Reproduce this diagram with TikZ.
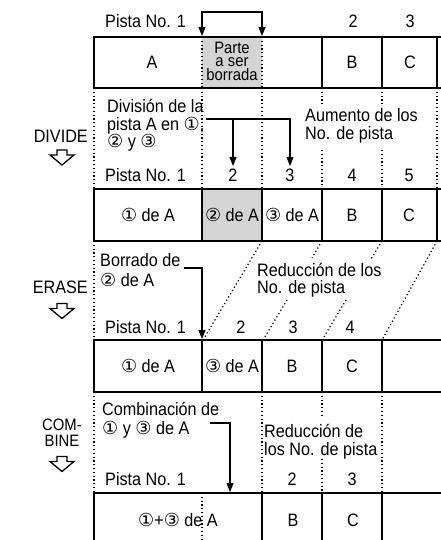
\documentclass[tikz,border=0pt]{standalone}
\usepackage{fontspec}
\setmainfont{Liberation Sans}[FakeStretch=0.9]
\newfontfamily\circfont{DejaVu Sans}
\usetikzlibrary{arrows.meta}
\newcommand{\cnum}[1]{{\circfont\fontsize{18}{18}\selectfont #1}}
\begin{document}
\begin{tikzpicture}[x=1pt,y=-1pt,
  font=\fontsize{18}{18}\selectfont,
  box/.style={line width=1.6pt},
  dots/.style={line width=1.2pt, dash pattern=on 1.2pt off 2.6pt},
  conn/.style={line width=1.1pt, -{Triangle[length=9pt,width=7pt]}},
  bconn/.style={line width=1.1pt, {Triangle[length=9pt,width=7pt]}-{Triangle[length=9pt,width=7pt]}},
  txt/.style={inner sep=0pt, anchor=base west},
  ctr/.style={inner sep=0pt, anchor=base},
  rtx/.style={inner sep=0pt, anchor=base east},
  small/.style={font=\fontsize{16.5}{16.5}\selectfont},
  shade/.style={fill=black!17},
  hollowdown/.pic={\draw[line width=1.3pt, line join=miter]
     (-5,-7.5) -- (5,-7.5) -- (5,-2.5) -- (12,-2.5) -- (0,7.5) -- (-12,-2.5) -- (-5,-2.5) -- cycle;}
]
\clip (0,0) rectangle (441,540);
% ---------- shading
\fill[shade] (202,37) rectangle (262,88);
\fill[shade] (202,189) rectangle (262,241);
% ---------- row 1
\draw[box] (445,37) -- (94,37) -- (94,88) -- (445,88);
\foreach \x in {322,382,437} \draw[box] (\x,37) -- (\x,88);
\foreach \x in {202,262} \draw[dots] (\x,37) -- (\x,88);
% ---------- row 2
\draw[box] (445,189) -- (94,189) -- (94,241) -- (445,241);
\foreach \x in {202,262,322,382,437} \draw[box] (\x,189) -- (\x,241);
% ---------- row 3
\draw[box] (445,340) -- (94,340) -- (94,392) -- (445,392);
\foreach \x in {202,262,322,382} \draw[box] (\x,340) -- (\x,392);
% ---------- row 4
\draw[box] (445,493) -- (94,493) -- (94,545);
\foreach \x in {262,322,382} \draw[box] (\x,493) -- (\x,545);
\draw[dots] (202,493) -- (202,545);
% ---------- dotted guides 1-2
\foreach \x in {94,202,262,437} \draw[dots] (\x,88) -- (\x,189);
\foreach \x in {322,382} {\draw[dots] (\x,88) -- (\x,104); \draw[dots] (\x,150) -- (\x,189);}
% ---------- dotted guides 2-3
\draw[dots] (94,241) -- (94,340);
\draw[dots] (262,241) -- (203,340);
\draw[dots] (322,241) -- (312,258);
\draw[dots] (287,300) -- (263,340);
\draw[dots] (382,241) -- (371,259);
\draw[dots] (346,300) -- (322,340);
\draw[dots] (437,241) -- (382,340);
% ---------- dotted guides 3-4
\foreach \x in {94,262,382} \draw[dots] (\x,392) -- (\x,493);
\draw[dots] (322,392) -- (322,418);
\draw[dots] (322,459) -- (322,493);
% ---------- top
\node[txt] (p0) at (105,28) {Pista No. 1};
\node[ctr] (n02) at (353,28) {2};
\node[ctr] (n03) at (410,28) {3};
\coordinate (br1) at (202,36);
\coordinate (br2) at (262,36);
\coordinate (brtop) at (232,12);
\draw[bconn] (br1) |- (brtop) -| (br2);
\node[ctr] (c1A) at (152,69) {A};
\node[ctr,small] (c1p1) at (232,53.5) {Parte};
\node[ctr,small] (c1p2) at (232,66.5) {a ser};
\node[ctr,small] (c1p3) at (232,80.5) {borrada};
\node[ctr] (c1B) at (352,69) {B};
\node[ctr] (c1C) at (410,69) {C};
% ---------- divide
\node[rtx] (lDiv) at (88,143) {DIVIDE};
\pic at (62,157.5) {hollowdown};
\node[txt] (d1) at (107,113) {División de la};
\node[txt] (d2) at (107,131) {pista A en \cnum{①},};
\node[txt] (d3) at (107,148) {\cnum{②} y \cnum{③}};
\node[txt] (au1) at (305,122) {Aumento de los};
\node[txt] (au2) at (305,140) {No. de pista};
\coordinate (db0) at (233,119);
\coordinate (db1) at (233,166);
\coordinate (dv0) at ([xshift=1.5pt]d2.east |- db0);
\coordinate (dv2) at (290,166);
\draw[conn] (dv0) -| (dv2);
\draw[conn] (db0) -- (db1);
\node[txt] (p2) at (105,181) {Pista No. 1};
\node[ctr] (n22) at (233,181) {2};
\node[ctr] (n23) at (290,181) {3};
\node[ctr] (n24) at (352,181) {4};
\node[ctr] (n25) at (409,181) {5};
\node[ctr] (c21) at (148,221) {\cnum{①} de A};
\node[ctr] (c22) at (232,221) {\cnum{②} de A};
\node[ctr] (c23) at (292,221) {\cnum{③} de A};
\node[ctr] (c2B) at (352,221) {B};
\node[ctr] (c2C) at (409,221) {C};
% ---------- erase
\node[rtx] (lEra) at (88,293) {ERASE};
\pic at (62,311) {hollowdown};
\node[txt] (e1) at (100,266) {Borrado de};
\node[txt] (e2) at (100,286) {\cnum{②} de A};
\coordinate (er0) at (184,268);
\coordinate (er1) at (202,339);
\draw[conn] (er0) -| (er1);
\node[txt] (r1) at (257,276) {Reducción de los};
\node[txt] (r2) at (257,293) {No. de pista};
\node[txt] (p3) at (105,333) {Pista No. 1};
\node[ctr] (n32) at (241,333) {2};
\node[ctr] (n33) at (293,333) {3};
\node[ctr] (n34) at (350,333) {4};
\node[ctr] (c31) at (148,372) {\cnum{①} de A};
\node[ctr] (c32) at (232,372) {\cnum{③} de A};
\node[ctr] (c3B) at (292,372) {B};
\node[ctr] (c3C) at (352,372) {C};
% ---------- combine
\node[ctr,small] (lCo1) at (62,430) {COM-};
\node[ctr,small] (lCo2) at (62,446.5) {BINE};
\pic at (62,464) {hollowdown};
\node[txt] (k1) at (102,415) {Combinación de};
\node[txt] (k2) at (102,434) {\cnum{①} y \cnum{③} de A};
\coordinate (cb0) at (210,423);
\coordinate (cb1) at (230,492);
\draw[conn] (cb0) -| (cb1);
\node[txt] (s1) at (264,437) {Reducción de};
\node[txt] (s2) at (264,455) {los No. de pista};
\node[txt] (p4) at (105,485) {Pista No. 1};
\node[ctr] (n42) at (292,485) {2};
\node[ctr] (n43) at (352,485) {3};
\node[ctr] (c41) at (178,526) {\cnum{①}+\cnum{③} de A};
\node[ctr] (c4B) at (293,526) {B};
\node[ctr] (c4C) at (353,526) {C};
\end{tikzpicture}
\end{document}
